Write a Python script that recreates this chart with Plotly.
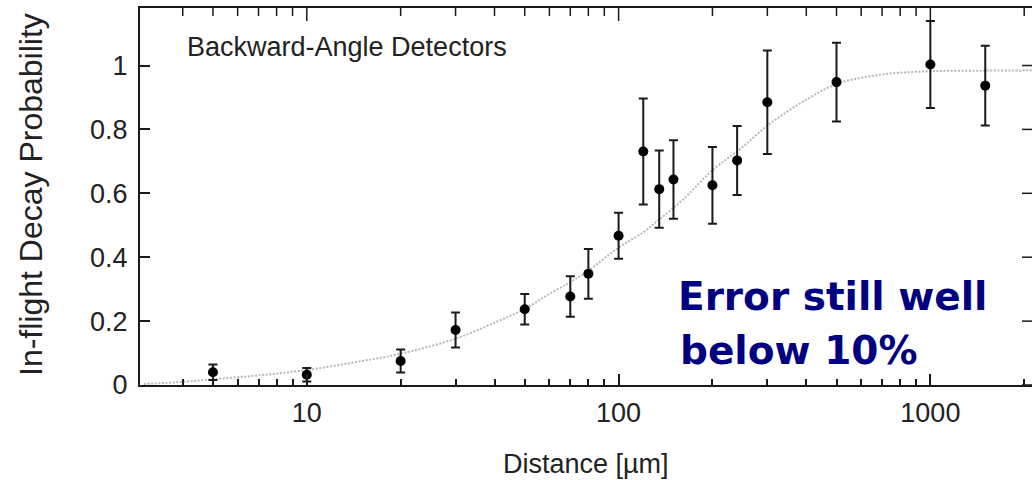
import numpy as np
import plotly.graph_objects as go

# ---- data ----
distance_um = [5, 10, 20, 30, 50, 70, 80, 100, 120, 135, 150, 200, 240, 300, 500, 1000, 1500]
probability = [0.040, 0.032, 0.075, 0.172, 0.237, 0.277, 0.348, 0.467, 0.731, 0.613,
               0.643, 0.625, 0.703, 0.885, 0.948, 1.003, 0.937]
prob_error = [0.024, 0.021, 0.036, 0.055, 0.048, 0.063, 0.078, 0.072, 0.166, 0.121,
              0.123, 0.120, 0.108, 0.162, 0.123, 0.136, 0.125]

fit_distance = [3, 4, 5, 7, 10, 15, 20, 30, 40, 50, 60, 70, 80, 100, 120, 135, 160,
                200, 250, 300, 400, 500, 700, 1000, 1500, 2200]
fit_probability = [0.003, 0.010, 0.018, 0.030, 0.047, 0.075, 0.098, 0.145, 0.195, 0.238,
                   0.285, 0.322, 0.358, 0.430, 0.478, 0.518, 0.578, 0.672, 0.745, 0.812,
                   0.893, 0.942, 0.972, 0.982, 0.984, 0.985]

x_major_ticks = [10, 100, 1000]
x_major_labels = ["10", "100", "1000"]
x_minor_ticks = [4, 5, 6, 7, 8, 9, 20, 30, 40, 50, 60, 70, 80, 90,
                 200, 300, 400, 500, 600, 700, 800, 900, 2000]
y_ticks = [0, 0.2, 0.4, 0.6, 0.8, 1]
y_labels = ["0", "0.2", "0.4", "0.6", "0.8", "1"]

panel_label = "Backward-Angle Detectors"
note_lines = ["Error still well", "below 10%"]
x_title = "Distance [µm]"
y_title = "In-flight Decay Probability"

# ---- layout constants ----
W, H = 1032, 480
ML, MR, MT, MB = 140, 0, 8, 95
PW, PH = W - ML - MR, H - MT - MB
X_RANGE = [0.465, 3.326]
Y_RANGE = [0, 1.18]

FONT = "Liberation Sans, Arial, sans-serif"
TXT = "#222222"
AX = "#1a1a1a"

def px_x(p):
    return (p - ML) / PW

def px_y(p):
    return (H - MB - p) / PH

fig = go.Figure()

fig.add_trace(go.Scatter(
    x=fit_distance, y=fit_probability, mode="lines",
    line=dict(color="#b8b8b8", width=2, dash="2px,1.6px", shape="spline"),
    hoverinfo="skip", showlegend=False))

fig.add_trace(go.Scatter(
    x=distance_um, y=probability, mode="markers",
    marker=dict(color="black", size=10),
    error_y=dict(type="data", array=prob_error, visible=True,
                 color=AX, thickness=2, width=4.5),
    showlegend=False))

# mirrored tick marks along the top edge, placed through the log x axis
y_per_px = (Y_RANGE[1] - Y_RANGE[0]) / PH
top_x, top_y = [], []
for v in x_major_ticks:
    top_x += [v, v, None]
    top_y += [Y_RANGE[1], Y_RANGE[1] - 13 * y_per_px, None]
for v in x_minor_ticks:
    top_x += [v, v, None]
    top_y += [Y_RANGE[1], Y_RANGE[1] - 8 * y_per_px, None]
fig.add_trace(go.Scatter(
    x=top_x, y=top_y, mode="lines", line=dict(color=AX, width=1.5),
    connectgaps=False, hoverinfo="skip", showlegend=False))

fig.update_layout(
    width=W, height=H,
    margin=dict(l=ML, r=MR, t=MT, b=MB, pad=0),
    paper_bgcolor="white", plot_bgcolor="white",
    showlegend=False,
    xaxis=dict(
        type="log", range=X_RANGE,
        tickmode="array", tickvals=x_major_ticks, ticktext=x_major_labels,
        ticks="inside", ticklen=11, tickwidth=1.5, tickcolor=AX,
        minor=dict(tickmode="array", tickvals=x_minor_ticks, ticks="inside",
                   ticklen=6, tickwidth=1.5, tickcolor=AX, showgrid=False),
        showline=True, linewidth=2, linecolor=AX, mirror=True,
        showgrid=False, zeroline=False,
        tickfont=dict(family=FONT, size=27, color=TXT),
        ticklabelstandoff=3,
    ),
    yaxis=dict(
        range=Y_RANGE, tickmode="array", tickvals=y_ticks, ticktext=y_labels,
        ticks="inside", ticklen=10, tickwidth=1.5, tickcolor=AX,
        showline=True, linewidth=2, linecolor=AX, mirror=False,
        showgrid=False, zeroline=False,
        tickfont=dict(family=FONT, size=27, color=TXT),
        ticklabelstandoff=5,
    ),
)

# right-edge ticks (the original shows no right border line)
shapes = []
for v in y_ticks:
    shapes.append(dict(type="line", xref="paper", yref="y", x0=1, x1=1 - 10 / PW,
                       y0=v, y1=v, line=dict(color=AX, width=1.5)))
fig.update_layout(shapes=shapes)

ann = []
ann.append(dict(text=panel_label, xref="paper", yref="paper",
                x=px_x(185), y=px_y(47), xanchor="left", yanchor="middle",
                showarrow=False, font=dict(family=FONT, size=27, color=TXT)))
ann.append(dict(text=x_title, xref="paper", yref="paper",
                x=px_x(586), y=px_y(464), xanchor="center", yanchor="middle",
                showarrow=False, font=dict(family=FONT, size=27, color=TXT)))
ann.append(dict(text=y_title, xref="paper", yref="paper",
                x=px_x(31), y=px_y(195), xanchor="center", yanchor="middle",
                textangle=-90, showarrow=False,
                font=dict(family=FONT, size=32, color=TXT)))
note_font = dict(family="DejaVu Sans", size=39, color="#000080", weight="bold")
ann.append(dict(text="<b>" + note_lines[0] + "</b>", xref="paper", yref="paper",
                x=px_x(676), y=px_y(296), xanchor="left", yanchor="middle",
                showarrow=False, font=note_font))
ann.append(dict(text="<b>" + note_lines[1] + "</b>", xref="paper", yref="paper",
                x=px_x(678), y=px_y(350), xanchor="left", yanchor="middle",
                showarrow=False, font=note_font))
fig.update_layout(annotations=ann)

fig.write_html("out.html")
